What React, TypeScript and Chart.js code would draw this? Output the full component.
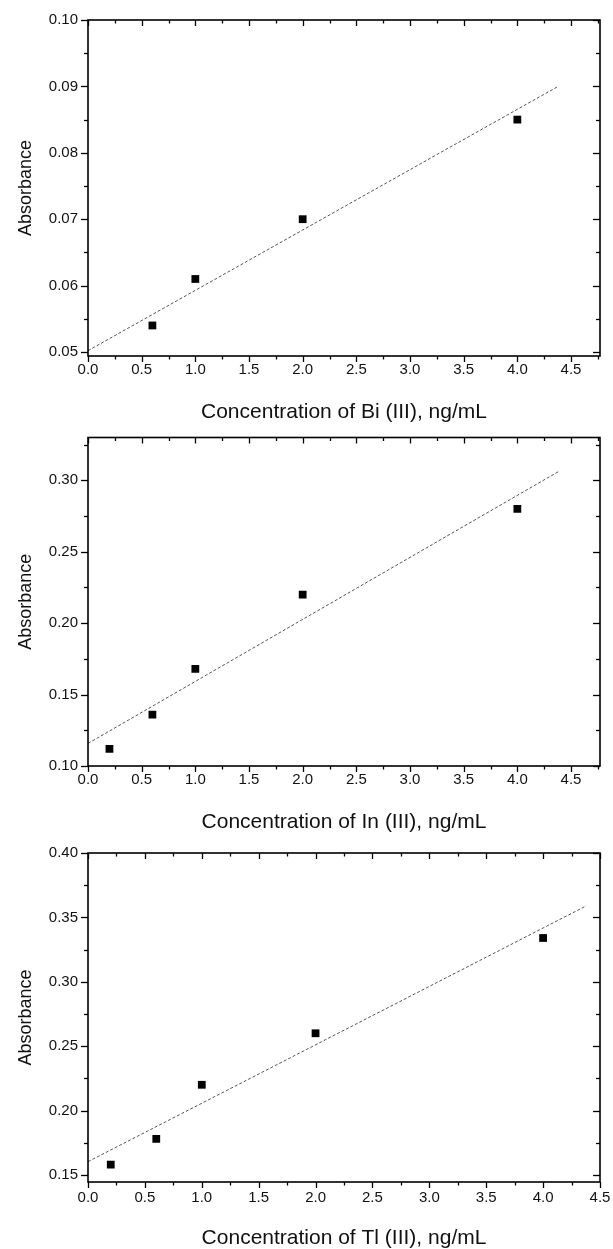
import React, { useEffect, useRef } from "react";
import { Chart, registerables } from "chart.js";

Chart.register(...registerables);

const FONT = "'Liberation Sans', Arial, Helvetica, sans-serif";

// ---------- Panel 1: Bi (III) ----------
const biConc = [0.6, 1.0, 2.0, 4.0];
const biAbs = [0.054, 0.061, 0.07, 0.085];
const biFitConc = [0, 4.38];
const biFitAbs = [0.0502, 0.09];
const biXTicks = [0, 0.5, 1.0, 1.5, 2.0, 2.5, 3.0, 3.5, 4.0, 4.5];
const biYTicks = [0.05, 0.06, 0.07, 0.08, 0.09, 0.1];

// ---------- Panel 2: In (III) ----------
const inConc = [0.2, 0.6, 1.0, 2.0, 4.0];
const inAbs = [0.112, 0.136, 0.168, 0.22, 0.28];
const inFitConc = [0, 4.38];
const inFitAbs = [0.1158, 0.306];
const inXTicks = [0, 0.5, 1.0, 1.5, 2.0, 2.5, 3.0, 3.5, 4.0, 4.5];
const inYTicks = [0.1, 0.15, 0.2, 0.25, 0.3];

// ---------- Panel 3: Tl (III) ----------
const tlConc = [0.2, 0.6, 1.0, 2.0, 4.0];
const tlAbs = [0.158, 0.178, 0.22, 0.26, 0.334];
const tlFitConc = [0, 4.38];
const tlFitAbs = [0.1603, 0.359];
const tlXTicks = [0, 0.5, 1.0, 1.5, 2.0, 2.5, 3.0, 3.5, 4.0, 4.5];
const tlYTicks = [0.15, 0.2, 0.25, 0.3, 0.35, 0.4];

type Panel = {
  conc: number[];
  abs: number[];
  fitConc: number[];
  fitAbs: number[];
  xTicks: number[];
  yTicks: number[];
  xMax: number;
  yMin: number;
  yMax: number;
  xTitle: string;
  top: number;
  height: number;
  padTop: number;
  xAxisH: number;
  xLabelPad: number;
  xTitlePad: number;
};

const panels: Panel[] = [
  {
    conc: biConc, abs: biAbs, fitConc: biFitConc, fitAbs: biFitAbs,
    xTicks: biXTicks, yTicks: biYTicks, xMax: 4.77, yMin: 0.0494, yMax: 0.1,
    xTitle: "Concentration of Bi (III), ng/mL",
    top: 0, height: 430, padTop: 20, xAxisH: 74, xLabelPad: 6.5, xTitlePad: 7.5,
  },
  {
    conc: inConc, abs: inAbs, fitConc: inFitConc, fitAbs: inFitAbs,
    xTicks: inXTicks, yTicks: inYTicks, xMax: 4.77, yMin: 0.1, yMax: 0.33,
    xTitle: "Concentration of In (III), ng/mL",
    top: 420, height: 420, padTop: 11, xAxisH: 74, xLabelPad: 6.5, xTitlePad: 7.5,
  },
  {
    conc: tlConc, abs: tlAbs, fitConc: tlFitConc, fitAbs: tlFitAbs,
    xTicks: tlXTicks, yTicks: tlYTicks, xMax: 4.5, yMin: 0.1445, yMax: 0.4,
    xTitle: "Concentration of Tl (III), ng/mL",
    top: 830, height: 419, padTop: 23, xAxisH: 67, xLabelPad: 8.5, xTitlePad: 0.5,
  },
];

function minorsOf(majors: number[], lo: number, hi: number): number[] {
  const step = majors[1] - majors[0];
  const out: number[] = [];
  for (let i = -1; i < majors.length; i++) {
    const v = (i < 0 ? majors[0] : majors[i]) + (i < 0 ? -step / 2 : step / 2);
    if (v >= lo - 1e-9 && v <= hi + 1e-9) out.push(v);
  }
  return out;
}

const frameTicksPlugin = {
  id: "frameTicks",
  afterDatasetsDraw(chart: any, _args: any, opts: any) {
    const { ctx, chartArea: a, scales } = chart;
    const xs = scales.x;
    const ys = scales.y;
    const seg = (x1: number, y1: number, x2: number, y2: number) => {
      ctx.beginPath();
      ctx.moveTo(x1, y1);
      ctx.lineTo(x2, y2);
      ctx.stroke();
    };
    ctx.save();
    ctx.strokeStyle = "#000";
    ctx.lineWidth = 1.3;
    const xMaj: number[] = opts.xMajor;
    const yMaj: number[] = opts.yMajor;
    const xMin = minorsOf(xMaj, xs.min, xs.max);
    const yMin = minorsOf(yMaj, ys.min, ys.max);
    const xTick = (vals: number[], len: number) =>
      vals.forEach((v) => {
        const p = Math.round(xs.getPixelForValue(v)) + 0.5;
        seg(p, a.bottom, p, a.bottom + len);
        seg(p, a.top, p, a.top + len);
      });
    const yTick = (vals: number[], len: number) =>
      vals.forEach((v) => {
        const p = Math.round(ys.getPixelForValue(v)) + 0.5;
        seg(a.left, p, a.left - len, p);
        seg(a.right, p, a.right - len, p);
      });
    xTick(xMaj, 6);
    xTick(xMin, 3.5);
    yTick(yMaj, 7);
    yTick(yMin, 4);
    ctx.lineWidth = 1.6;
    ctx.strokeRect(a.left, a.top, a.right - a.left, a.bottom - a.top);
    ctx.restore();
  },
};

function PanelChart({ p }: { p: Panel }) {
  const ref = useRef<HTMLCanvasElement | null>(null);
  useEffect(() => {
    if (!ref.current) return;
    const chart = new Chart(ref.current, {
      type: "scatter",
      data: {
        datasets: [
          {
            data: p.conc.map((x, i) => ({ x, y: p.abs[i] })),
            pointStyle: "rect",
            pointRadius: 5.5,
            backgroundColor: "#000",
            borderColor: "#000",
            borderWidth: 0,
            showLine: false,
          },
          {
            data: p.fitConc.map((x, i) => ({ x, y: p.fitAbs[i] })),
            showLine: true,
            pointRadius: 0,
            borderColor: "#555",
            borderWidth: 1,
            borderDash: [3, 2],
            fill: false,
          },
        ],
      },
      options: {
        responsive: false,
        devicePixelRatio: 1,
        animation: false,
        events: [],
        layout: { padding: { top: p.padTop, right: 13, left: 0, bottom: 0 } },
        plugins: {
          legend: { display: false },
          tooltip: { enabled: false },
          frameTicks: { xMajor: p.xTicks, yMajor: p.yTicks },
        } as any,
        scales: {
          x: {
            type: "linear",
            min: 0,
            max: p.xMax,
            grid: { display: false, drawTicks: false },
            border: { display: false },
            afterBuildTicks: (s: any) => {
              s.ticks = p.xTicks.map((value) => ({ value }));
            },
            afterFit: (s: any) => {
              s.height = p.xAxisH;
              s.paddingLeft = 0;
              s.paddingRight = 0;
            },
            ticks: {
              padding: p.xLabelPad,
              color: "#111",
              font: { family: FONT, size: 15, lineHeight: 1 },
              maxRotation: 0,
              autoSkip: false,
              callback: (v: any) => Number(v).toFixed(1),
            },
            title: {
              display: true,
              text: p.xTitle,
              color: "#111",
              font: { family: FONT, size: 21, lineHeight: 1 },
              padding: { top: 0, bottom: p.xTitlePad },
            },
          },
          y: {
            type: "linear",
            min: p.yMin,
            max: p.yMax,
            grid: { display: false, drawTicks: false },
            border: { display: false },
            afterBuildTicks: (s: any) => {
              s.ticks = p.yTicks.map((value) => ({ value }));
            },
            afterFit: (s: any) => {
              s.width = 88;
            },
            ticks: {
              padding: 10,
              color: "#111",
              font: { family: FONT, size: 15, lineHeight: 1 },
              autoSkip: false,
              callback: (v: any) => Number(v).toFixed(2),
            },
            title: {
              display: true,
              text: "Absorbance",
              color: "#111",
              font: { family: FONT, size: 18 },
              padding: { top: 15, bottom: 0 },
            },
          },
        },
      },
      plugins: [frameTicksPlugin],
    } as any);
    return () => chart.destroy();
  }, [p]);
  return (
    <canvas
      ref={ref}
      width={613}
      height={p.height}
      style={{ position: "absolute", left: 0, top: p.top, width: 613, height: p.height }}
    />
  );
}

export default function App() {
  return (
    <div style={{ position: "absolute", left: 0, top: 0, width: 613, height: 1249, overflow: "hidden", background: "#fff" }}>
      {panels.map((p, i) => (
        <PanelChart key={i} p={p} />
      ))}
    </div>
  );
}
